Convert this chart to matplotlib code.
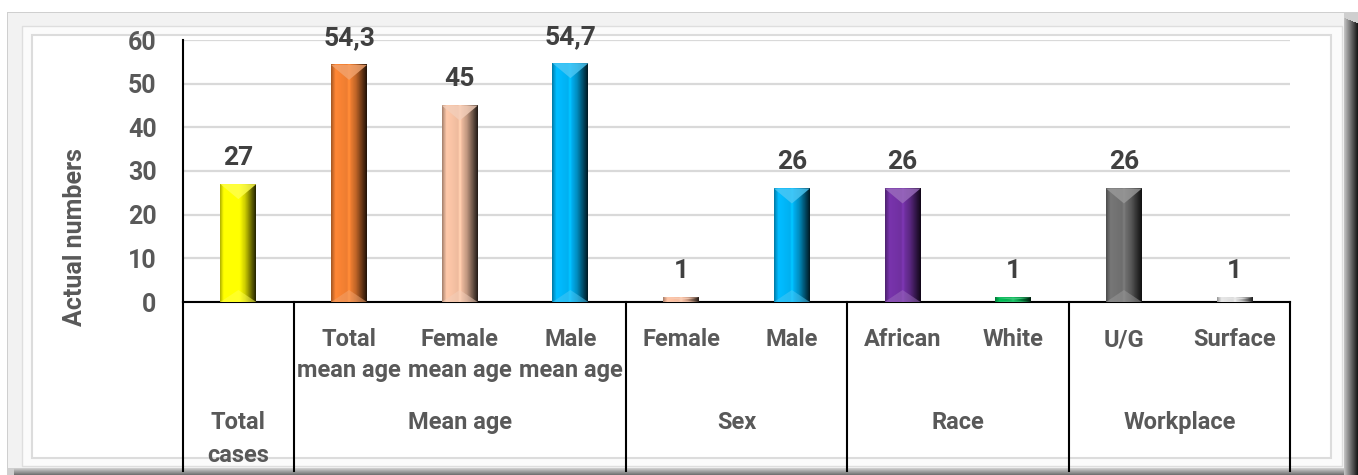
import numpy as np
import matplotlib
matplotlib.use("Agg")
import matplotlib.pyplot as plt
from matplotlib.patches import Rectangle, Polygon
from matplotlib import colors as mcolors

# data
sub_labels = ['', 'Total\nmean age', 'Female\nmean age', 'Male\nmean age',
              'Female', 'Male', 'African', 'White', 'U/G', 'Surface']
values = [27, 54.3, 45, 54.7, 1, 26, 26, 1, 26, 1]
bar_colors = ['#ffff00', '#ed7d31', '#eebb9e', '#00b0f0', '#f4b89a',
              '#00b0f0', '#7030a0', '#00b050', '#6e6e6e', '#d9d9d9']
groups = ['Total\ncases', 'Mean age', 'Sex', 'Race', 'Workplace']
group_sizes = [1, 3, 2, 2, 2]

W, H = 1358, 475
plt.rcParams['font.family'] = ['Roboto', 'DejaVu Sans']
plt.rcParams['font.weight'] = 'bold'

fig = plt.figure(figsize=(W / 100, H / 100), dpi=100)
fig.patch.set_facecolor('white')


def px_rect(x0, y0, x1, y1, **kw):
    # rectangle in pixel coords (origin top-left)
    r = Rectangle((x0 / W, 1 - y1 / H), (x1 - x0) / W, (y1 - y0) / H,
                  transform=fig.transFigure, zorder=-10, **kw)
    fig.add_artist(r)


# picture frame with a bevel
px_rect(7, 12, 1358, 475, facecolor='#cfcfcf', edgecolor='none')
px_rect(8, 13, 1344, 468, facecolor='#f2f2f2', edgecolor='none')
for i, c in enumerate(np.linspace(0.75, 0.1, 14)):
    px_rect(1344 + i, 18 + i * 0.4, 1345 + i, 475, facecolor=str(c), edgecolor='none')
for i, c in enumerate(np.linspace(0.8, 0.45, 7)):
    px_rect(14, 468 + i, 1344, 469 + i, facecolor=str(c), edgecolor='none')
px_rect(22, 26, 1342, 466, facecolor='#fbfbfb', edgecolor='#dedede', lw=1)
px_rect(32, 35, 1331, 458, facecolor='white', edgecolor='#dcdcdc', lw=1.5)

ax = fig.add_axes([183 / W, 1 - 302 / H, (1290 - 183) / W, (302 - 40) / H])
ax.set_facecolor('none')

x = np.arange(len(values))
bw = 0.325
bars = ax.bar(x, values, width=bw, color=bar_colors, zorder=2)
ax.set_xlim(-0.5, len(values) - 0.5)
ax.set_ylim(0, 60)
ax.set_yticks(range(0, 61, 10))
ax.grid(axis='y', color='#d9d9d9', lw=1.6)
ax.set_axisbelow(True)
for s in ['top', 'right']:
    ax.spines[s].set_visible(False)
ax.spines['left'].set_color('black')
ax.spines['bottom'].set_color('black')
ax.spines['left'].set_linewidth(1.5)
ax.spines['bottom'].set_linewidth(1.5)
ax.tick_params(axis='y', length=0, pad=19, labelsize=18, labelcolor='#595959')
ax.set_xticks(x)
ax.set_xticklabels(sub_labels, fontsize=17, color='#595959', linespacing=1.45)
ax.tick_params(axis='x', length=0, pad=19)

# 3D-ish shading of each bar
ppu = ax.transData.transform((0, 1))[1] - ax.transData.transform((0, 0))[1]
prof_x = [0, 0.12, 0.45, 0.5, 0.55, 0.7, 1.0]
prof_f = [0.7, 1.08, 1.0, 1.15, 1.0, 0.8, 0.15]
xs = np.linspace(0, 1, 60)
prof = np.interp(xs, prof_x, prof_f)
for p, c in zip(bars, bar_colors):
    rgb = np.array(mcolors.to_rgb(c))
    img = np.clip(prof[:, None] * rgb[None, :], 0, 1)[None, :, :]
    x0, w, h = p.get_x(), p.get_width(), p.get_height()
    ax.imshow(img, extent=[x0, x0 + w, 0, h], aspect='auto', zorder=3,
              interpolation='bilinear')
    d = min(15 / ppu, h / 2)
    light = np.clip(rgb + (1 - rgb) * 0.3, 0, 1)
    ax.add_patch(Polygon([(x0, h), (x0 + w, h), (x0 + w / 2, h - d)],
                         closed=True, facecolor=light, edgecolor='none',
                         alpha=0.8, zorder=4))
    ax.add_patch(Polygon([(x0, 0), (x0 + w, 0), (x0 + w / 2, d * 0.8)],
                         closed=True, facecolor=light, edgecolor='none',
                         alpha=0.5, zorder=4))
    lab = ('%g' % p.get_height()).replace('.', ',')
    ax.annotate(lab, (x0 + w / 2, h), xytext=(0, 19), textcoords='offset points',
                ha='center', va='center', fontsize=19, color='#404040',
                fontweight='bold')

ax.set_xlim(-0.5, len(values) - 0.5)
ax.set_ylim(0, 60)

# group separators and labels under the axis
bt = ax.get_xaxis_transform()
y_low = -(471 - 302) / (302 - 40)
edges = np.concatenate([[0], np.cumsum(group_sizes)]) - 0.5
for e in edges:
    ax.plot([e, e], [0, y_low], color='black', lw=1.5, transform=bt,
            clip_on=False, zorder=5)
for g, a, b in zip(groups, edges[:-1], edges[1:]):
    ax.text((a + b) / 2, -(411 - 302) / (302 - 40), g, transform=bt,
            ha='center', va='top', fontsize=17, color='#595959',
            linespacing=1.55)

fig.text(75 / W, 1 - 237 / H, 'Actual numbers', rotation=90, ha='center',
         va='center', fontsize=18, color='#595959', fontweight='bold')

fig.savefig('out.png', dpi=100)
